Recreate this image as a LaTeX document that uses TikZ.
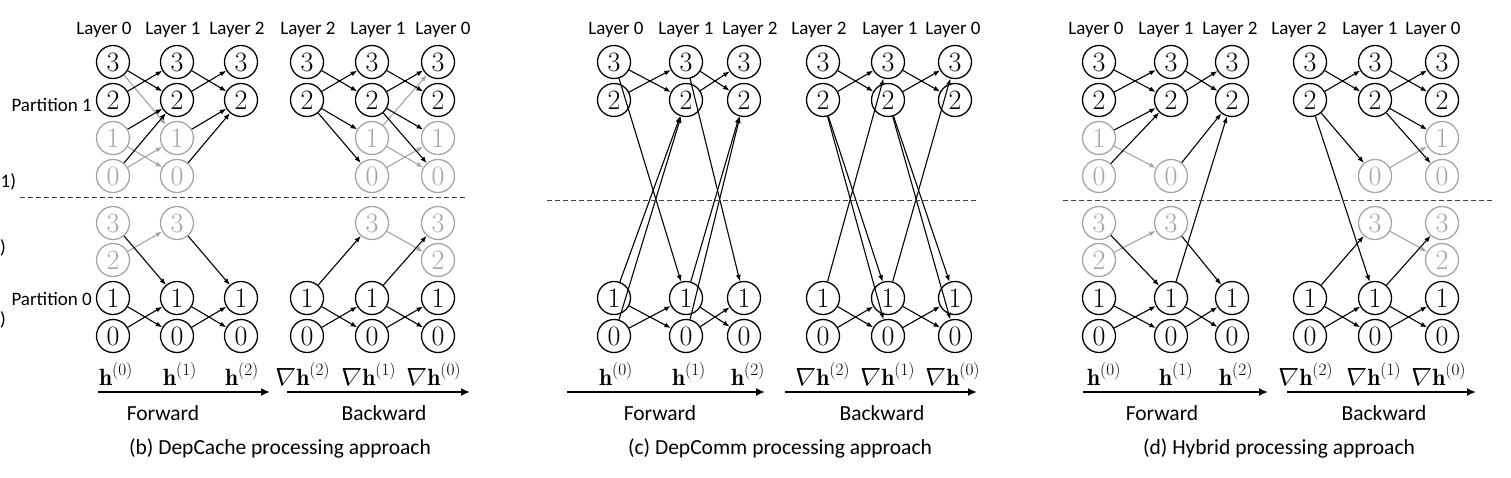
\documentclass[tikz,border=0pt]{standalone}
\usepackage{fontspec}
\newfontfamily\calib{Carlito}
\usetikzlibrary{arrows.meta}
\definecolor{gr}{RGB}{165,165,165}
\newcommand\N[5]{\node[#5] (#1) at (#2,#3) {#4};}
\newcommand\E[3][e]{\draw[#1] (#2) -- (#3);}
\newcommand\inab{\tikz[baseline=(nb.base)]\node[inner sep=0pt,xslant=0.22,transform shape] (nb) {$\nabla$};}
\tikzset{
 cb/.style={circle,draw=black,line width=1.3pt,minimum size=33pt,inner sep=0pt,font=\fontsize{28}{28}\selectfont},
 cg/.style={cb,draw=gr,text=gr},
 e/.style={line width=1.1pt,-{Latex[length=6.5pt,width=5pt]}},
 eg/.style={e,draw=gr,-{Latex[length=6.5pt,width=5pt,fill=gr]}},
 lab/.style={font=\calib\fontsize{19}{19}\selectfont,inner sep=0pt},
 captxt/.style={font=\calib\fontsize{21.5}{21.5}\selectfont,inner sep=0pt},
 hl/.style={font=\fontsize{23.5}{23.5}\selectfont,inner sep=0pt,anchor=base},
 big/.style={line width=2pt,-{Latex[length=9pt,width=8pt]}},
 dl/.style={dash pattern=on 5pt off 3pt,line width=1pt,draw=black!75}
}
\begin{document}
\begin{tikzpicture}[x=1pt,y=-1pt]
\useasboundingbox (0,0) rectangle (1511,477);
% ---------- panel b ----------
\N{bf0u3}{113}{62}{3}{cb}\N{bf0u2}{113}{100}{2}{cb}\N{bf0u1}{113}{138}{1}{cg}\N{bf0u0}{113}{176}{0}{cg}
\N{bf0l3}{113}{223}{3}{cg}\N{bf0l2}{113}{260}{2}{cg}\N{bf0l1}{113}{298}{1}{cb}\N{bf0l0}{113}{336}{0}{cb}
\N{bf1u3}{177}{62}{3}{cb}\N{bf1u2}{177}{100}{2}{cb}\N{bf1u1}{177}{138}{1}{cg}\N{bf1u0}{177}{176}{0}{cg}
\N{bf1l3}{177}{223}{3}{cg}\N{bf1l1}{177}{298}{1}{cb}\N{bf1l0}{177}{336}{0}{cb}
\N{bf2u3}{241}{62}{3}{cb}\N{bf2u2}{241}{100}{2}{cb}\N{bf2l1}{241}{298}{1}{cb}\N{bf2l0}{241}{336}{0}{cb}
\N{bk2u3}{307}{62}{3}{cb}\N{bk2u2}{307}{100}{2}{cb}\N{bk2l1}{307}{298}{1}{cb}\N{bk2l0}{307}{336}{0}{cb}
\N{bk1u3}{372}{62}{3}{cb}\N{bk1u2}{372}{100}{2}{cb}\N{bk1u1}{372}{138}{1}{cg}\N{bk1u0}{372}{176}{0}{cg}
\N{bk1l3}{372}{223}{3}{cg}\N{bk1l1}{372}{298}{1}{cb}\N{bk1l0}{372}{336}{0}{cb}
\N{bk0u3}{438}{62}{3}{cb}\N{bk0u2}{438}{100}{2}{cb}\N{bk0u1}{438}{138}{1}{cg}\N{bk0u0}{438}{176}{0}{cg}
\N{bk0l3}{438}{223}{3}{cg}\N{bk0l2}{438}{260}{2}{cg}\N{bk0l1}{438}{298}{1}{cb}\N{bk0l0}{438}{336}{0}{cb}
% gray edges first
\E[eg]{bf0u3}{bf1u1}\E[eg]{bf0u1}{bf1u0}\E[eg]{bf0u0}{bf1u1}\E[eg]{bf0l2}{bf1l3}
\E[eg]{bk1u1}{bk0u3}\E[eg]{bk1u1}{bk0u0}\E[eg]{bk1u0}{bk0u1}\E[eg]{bk1l3}{bk0l2}
\E{bf0u3}{bf1u2}\E{bf0u2}{bf1u3}\E{bf0u1}{bf1u2}\E{bf0u0}{bf1u2}
\E{bf0l3}{bf1l1}\E{bf0l1}{bf1l0}\E{bf0l0}{bf1l1}
\E{bf1u3}{bf2u2}\E{bf1u2}{bf2u3}\E{bf1u1}{bf2u2}\E{bf1u0}{bf2u2}
\E{bf1l3}{bf2l1}\E{bf1l1}{bf2l0}\E{bf1l0}{bf2l1}
\E{bk2u3}{bk1u2}\E{bk2u2}{bk1u3}\E{bk2u2}{bk1u1}\E{bk2u2}{bk1u0}
\E{bk2l1}{bk1l3}\E{bk2l1}{bk1l0}\E{bk2l0}{bk1l1}
\E{bk1u3}{bk0u2}\E{bk1u2}{bk0u3}\E{bk1u2}{bk0u1}\E{bk1u2}{bk0u0}
\E{bk1l1}{bk0l3}\E{bk1l1}{bk0l0}\E{bk1l0}{bk0l1}
% ---------- panel c ----------
\foreach \n/\x in {cf0/614,cf1/686,cf2/744,ck2/823,ck1/888,ck0/955}{
 \node[cb] (\n u3) at (\x,62) {3};
 \node[cb] (\n u2) at (\x,100) {2};
 \node[cb] (\n l1) at (\x,298) {1};
 \node[cb] (\n l0) at (\x,336) {0};
}
\foreach \a/\b in {cf0/cf1,cf1/cf2}{
 \E{\a u3}{\b u2}\E{\a u3}{\b l1}\E{\a u2}{\b u3}
 \E{\a l1}{\b l0}\E{\a l1}{\b u2}\E{\a l0}{\b l1}\E{\a l0}{\b u2}
}
\foreach \a/\b in {ck2/ck1,ck1/ck0}{
 \E{\a u3}{\b u2}\E{\a u2}{\b u3}\E{\a u2}{\b l1}\E{\a u2}{\b l0}
 \E{\a l1}{\b u3}\E{\a l1}{\b l0}\E{\a l0}{\b l1}
}
% ---------- panel d ----------
\N{df0u3}{1099}{62}{3}{cb}\N{df0u2}{1099}{100}{2}{cb}\N{df0u1}{1099}{138}{1}{cg}\N{df0u0}{1099}{176}{0}{cg}
\N{df0l3}{1099}{223}{3}{cg}\N{df0l2}{1099}{260}{2}{cg}\N{df0l1}{1099}{298}{1}{cb}\N{df0l0}{1099}{336}{0}{cb}
\N{df1u3}{1171}{62}{3}{cb}\N{df1u2}{1171}{100}{2}{cb}\N{df1u0}{1171}{176}{0}{cg}
\N{df1l3}{1171}{223}{3}{cg}\N{df1l1}{1171}{298}{1}{cb}\N{df1l0}{1171}{336}{0}{cb}
\N{df2u3}{1232}{62}{3}{cb}\N{df2u2}{1232}{100}{2}{cb}\N{df2l1}{1232}{298}{1}{cb}\N{df2l0}{1232}{336}{0}{cb}
\N{dk2u3}{1310}{62}{3}{cb}\N{dk2u2}{1310}{100}{2}{cb}\N{dk2l1}{1310}{298}{1}{cb}\N{dk2l0}{1310}{336}{0}{cb}
\N{dk1u3}{1375}{62}{3}{cb}\N{dk1u2}{1375}{100}{2}{cb}\N{dk1u0}{1375}{176}{0}{cg}
\N{dk1l3}{1375}{223}{3}{cg}\N{dk1l1}{1375}{298}{1}{cb}\N{dk1l0}{1375}{336}{0}{cb}
\N{dk0u3}{1442}{62}{3}{cb}\N{dk0u2}{1442}{100}{2}{cb}\N{dk0u1}{1442}{138}{1}{cg}\N{dk0u0}{1442}{176}{0}{cg}
\N{dk0l3}{1442}{223}{3}{cg}\N{dk0l2}{1442}{260}{2}{cg}\N{dk0l1}{1442}{298}{1}{cb}\N{dk0l0}{1442}{336}{0}{cb}
\E[eg]{df0u1}{df1u0}\E[eg]{df0l2}{df1l3}\E[eg]{dk1u0}{dk0u1}\E[eg]{dk1l3}{dk0l2}
\E{df0u3}{df1u2}\E{df0u2}{df1u3}\E{df0u1}{df1u2}\E{df0u0}{df1u2}
\E{df0l3}{df1l1}\E{df0l1}{df1l0}\E{df0l0}{df1l1}
\E{df1u3}{df2u2}\E{df1u2}{df2u3}\E{df1u0}{df2u2}\E{df1l1}{df2u2}
\E{df1l3}{df2l1}\E{df1l1}{df2l0}\E{df1l0}{df2l1}
\E{dk2u3}{dk1u2}\E{dk2u2}{dk1u3}\E{dk2u2}{dk1u0}\E{dk2u2}{dk1l1}
\E{dk2l1}{dk1l3}\E{dk2l1}{dk1l0}\E{dk2l0}{dk1l1}
\E{dk1u3}{dk0u2}\E{dk1u2}{dk0u3}\E{dk1u2}{dk0u1}\E{dk1u2}{dk0u0}
\E{dk1l1}{dk0l3}\E{dk1l1}{dk0l0}\E{dk1l0}{dk0l1}
% ---------- layer labels ----------
\foreach \i/\x/\t in {1/104/Layer 0,2/173/Layer 1,3/237/Layer 2,4/308/Layer 2,5/378/Layer 1,6/443/Layer 0,
 7/616/Layer 0,8/686/Layer 1,9/750/Layer 2,10/819/Layer 2,11/890/Layer 1,12/953/Layer 0,
 13/1096/Layer 0,14/1166/Layer 1,15/1230/Layer 2,16/1299/Layer 2,17/1370/Layer 1,18/1433/Layer 0}{
 \node[lab] (ly\i) at (\x,30) {\t};
}
\node[lab,anchor=east] (p1) at (92,105) {Partition 1};
\node[lab,anchor=east] (p0) at (92,299) {Partition 0};
\node[lab,anchor=west] (frA) at (0.5,182) {1)};
\node[lab,anchor=east] (frB) at (6,248) {)};
\node[lab,anchor=east] (frC) at (6,320) {)};
% ---------- dashed separators ----------
\coordinate (bdl) at (20,197); \coordinate (bdr) at (466,197);
\coordinate (cdl) at (547,200); \coordinate (cdr) at (976,200);
\coordinate (ddl) at (1063,200); \coordinate (ddr) at (1492,200);
\draw[dl] (bdl) -- (bdr); \draw[dl] (cdl) -- (cdr); \draw[dl] (ddl) -- (ddr);
% ---------- h labels ----------
\foreach \i/\x/\k in {1/116/0,2/180/1,3/242/2,4/616/0,5/689/1,6/748/2,7/1104/0,8/1176/1,9/1236/2}{
 \node[hl] (h\i) at (\x,385) {$\mathbf{h}^{(\k)}$};
}
\foreach \i/\x/\k in {1/301/2,2/367/1,3/432/0,4/821/2,5/886/1,6/951/0,7/1304/2,8/1372/1,9/1437/0}{
 \node[hl] (g\i) at (\x,385) {\inab$\mathbf{h}^{(\k)}$};
}
% ---------- direction arrows ----------
\coordinate (bfa) at (98,392); \coordinate (bfb) at (270,392);
\coordinate (bba) at (287,392); \coordinate (bbb) at (470,392);
\coordinate (cfa) at (567,392); \coordinate (cfb) at (765,392);
\coordinate (cba) at (785,392); \coordinate (cbb) at (977,392);
\coordinate (dfa) at (1083,392); \coordinate (dfb) at (1268,392);
\coordinate (dba) at (1287,392); \coordinate (dbb) at (1476,392);
\draw[big] (bfa) -- (bfb); \draw[big] (bba) -- (bbb);
\draw[big] (cfa) -- (cfb); \draw[big] (cba) -- (cbb);
\draw[big] (dfa) -- (dfb); \draw[big] (dba) -- (dbb);
\node[captxt] (fwb) at (163,413) {Forward};
\node[captxt] (bwb) at (384,413) {Backward};
\node[captxt] (fwc) at (660,413) {Forward};
\node[captxt] (bwc) at (882,413) {Backward};
\node[captxt] (fwd) at (1162,413) {Forward};
\node[captxt] (bwd) at (1384,413) {Backward};
\node[captxt] (capb) at (280,448) {(b) DepCache processing approach};
\node[captxt] (capc) at (780,448) {(c) DepComm processing approach};
\node[captxt] (capd) at (1279,448) {(d) Hybrid processing approach};
\end{tikzpicture}
\end{document}
